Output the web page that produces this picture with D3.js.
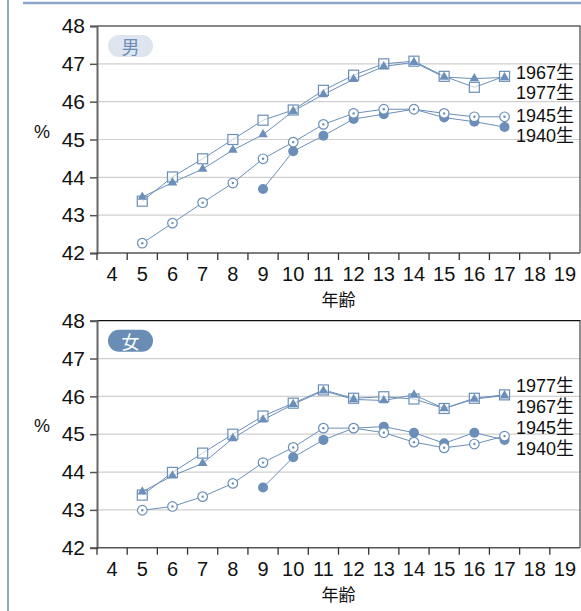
<!DOCTYPE html>
<html>
<head>
<meta charset="utf-8">
<script src="https://cdn.jsdelivr.net/npm/d3@7"></script>
<style>
  html, body { margin: 0; padding: 0; background: #fff; }
  svg { display: block; font-family: "Liberation Sans", Arial, "Noto Sans CJK JP", sans-serif; }
  .cjk { font-family: "Noto Sans CJK JP", sans-serif; }
</style>
</head>
<body>
<svg id="chart" width="581" height="611"></svg>
<script>
const ages = [4, 5, 6, 7, 8, 9, 10, 11, 12, 13, 14, 15, 16, 17, 18, 19];
const yTicks = [42, 43, 44, 45, 46, 47, 48];
const cohortAges = [5, 6, 7, 8, 9, 10, 11, 12, 13, 14, 15, 16, 17];

// 男
const male1967 = [43.37, 44.01, 44.49, 45.0, 45.51, 45.78, 46.3, 46.7, 47.0, 47.07, 46.67, 46.38, 46.67];
const male1977 = [43.48, 43.86, 44.22, 44.72, 45.13, 45.75, 46.19, 46.59, 46.93, 47.04, 46.65, 46.61, 46.64];
const male1945 = [42.26, 42.79, 43.33, 43.85, 44.49, 44.93, 45.4, 45.69, 45.8, 45.8, 45.69, 45.6, 45.6];
const male1940 = [null, null, null, null, 43.69, 44.69, 45.1, 45.54, 45.67, 45.8, 45.58, 45.47, 45.33];

// 女
const female1967 = [43.39, 43.99, 44.5, 45.0, 45.48, 45.82, 46.17, 45.95, 45.99, 45.93, 45.68, 45.95, 46.04];
const female1977 = [43.48, 43.9, 44.23, 44.89, 45.38, 45.79, 46.15, 45.92, 45.89, 46.04, 45.68, 45.93, 46.02];
const female1945 = [42.99, 43.09, 43.35, 43.7, 44.25, 44.65, 45.16, 45.16, 45.04, 44.79, 44.64, 44.74, 44.95];
const female1940 = [null, null, null, null, 43.59, 44.39, 44.85, 45.16, 45.2, 45.04, 44.76, 45.04, 44.85];

const seriesNames = ["1967生", "1977生", "1945生", "1940生"];
const markerKinds = ["square", "triangle", "dotcircle", "dot"];

const panels = [
  { title: "男", top: 26, series: [male1967, male1977, male1945, male1940],
    labelOrder: [0, 1, 2, 3], labelY: [46.77, 46.22, 45.63, 45.08], dark: false },
  { title: "女", top: 320.7, series: [female1967, female1977, female1945, female1940],
    labelOrder: [1, 0, 2, 3], labelY: [46.27, 45.71, 45.16, 44.6], dark: true }
];

const blue = "#6b8fb9";
const svg = d3.select("#chart");

// frame
svg.append("line").attr("x1", 8).attr("x2", 8).attr("y1", 0).attr("y2", 611)
  .attr("stroke", "#8ca7c7").attr("stroke-width", 2);
svg.append("line").attr("x1", 23).attr("x2", 581).attr("y1", 3).attr("y2", 3)
  .attr("stroke", "#8ca7c7").attr("stroke-width", 2.5);

const left = 97, right = 580, plotH = 227;

const x = d3.scaleBand().domain(ages).range([left, right]);

panels.forEach(p => {
  const y = d3.scaleLinear().domain([42, 48]).range([p.top + plotH, p.top]);
  const g = svg.append("g");

  // grid
  g.selectAll(".grid").data(yTicks.filter(t => t > 42 && t < 48)).join("line")
    .attr("x1", left).attr("x2", right)
    .attr("y1", d => y(d)).attr("y2", d => y(d))
    .attr("stroke", "#d0d0d0").attr("stroke-width", 1.2);

  // top and right border
  g.append("line").attr("x1", left).attr("x2", right + 0.5).attr("y1", y(48)).attr("y2", y(48))
    .attr("stroke", "#111").attr("stroke-width", 1.2);
  g.append("line").attr("x1", right).attr("x2", right).attr("y1", y(48)).attr("y2", y(42))
    .attr("stroke", "#444").attr("stroke-width", 1.2);

  // y axis
  const ya = g.append("g").attr("transform", `translate(${left},0)`)
    .call(d3.axisLeft(y).tickValues(yTicks).tickFormat(d3.format("d")).tickSize(7).tickPadding(5));
  ya.select(".domain").attr("stroke", "#666").attr("stroke-width", 2);
  ya.selectAll(".tick line").attr("stroke", "#555").attr("stroke-width", 1.5);
  ya.selectAll(".tick text").attr("font-size", 21).attr("fill", "#111")
    .attr("font-family", "Liberation Sans, Arial, sans-serif");

  // x axis: ticks on band boundaries, labels centred in bands
  const xa = g.append("g").attr("transform", `translate(0,${y(42)})`);
  xa.append("line").attr("x1", left).attr("x2", right).attr("stroke", "#555").attr("stroke-width", 1.5);
  xa.selectAll(".xt").data(ages).join("line")
    .attr("x1", d => x(d)).attr("x2", d => x(d)).attr("y1", 0).attr("y2", 7)
    .attr("stroke", "#333").attr("stroke-width", 1.3);
  xa.selectAll(".xl").data(ages).join("text")
    .attr("x", d => x(d) + x.bandwidth() / 2).attr("y", 28)
    .attr("text-anchor", "middle").attr("font-size", 20).attr("fill", "#111")
    .text(d => d);

  g.append("text").attr("class", "cjk").attr("x", (left + right) / 2).attr("y", y(42) + 53)
    .attr("text-anchor", "middle").attr("font-size", 17).attr("fill", "#111").text("年齢");
  g.append("text").attr("x", 42).attr("y", y(45) - 2)
    .attr("text-anchor", "middle").attr("font-size", 18).attr("fill", "#111").text("%");

  // title pill
  g.append("rect").attr("x", 108).attr("y", p.top + 9).attr("width", 45).attr("height", 22)
    .attr("rx", 11).attr("fill", p.dark ? "#6a8db5" : "#dfe5ef");
  g.append("text").attr("class", "cjk").attr("x", 130.5).attr("y", p.top + 20)
    .attr("dominant-baseline", "central").attr("text-anchor", "middle")
    .attr("font-size", 18).attr("fill", p.dark ? "#fff" : "#6b8fb9").text(p.title);

  const cx = a => x(a) + x.bandwidth() / 2;
  const line = d3.line().defined(d => d[1] != null).x(d => cx(d[0])).y(d => y(d[1]));

  // lines (drawn back to front)
  [3, 2, 1, 0].forEach(si => {
    const pts = cohortAges.map((a, i) => [a, p.series[si][i]]);
    g.append("path").attr("d", line(pts)).attr("fill", "none")
      .attr("stroke", blue).attr("stroke-width", 1);
  });

  [3, 2, 0, 1].forEach(si => {
    const pts = cohortAges.map((a, i) => [a, p.series[si][i]]).filter(d => d[1] != null);
    const kind = markerKinds[si];
    const m = g.append("g");
    pts.forEach(([a, v]) => {
      const px = cx(a), py = y(v);
      if (kind === "square") {
        m.append("rect").attr("x", px - 5).attr("y", py - 5).attr("width", 10).attr("height", 10)
          .attr("fill", "#fff").attr("fill-opacity", 0.6).attr("stroke", blue).attr("stroke-width", 1.2);
      } else if (kind === "triangle") {
        m.append("path").attr("d", d3.symbol(d3.symbolTriangle, 40)()).attr("transform", `translate(${px},${py})`)
          .attr("fill", blue);
      } else if (kind === "dotcircle") {
        m.append("circle").attr("cx", px).attr("cy", py).attr("r", 4.8)
          .attr("fill", "#fff").attr("stroke", blue).attr("stroke-width", 1.2);
        m.append("circle").attr("cx", px).attr("cy", py).attr("r", 1.2).attr("fill", blue);
      } else {
        m.append("circle").attr("cx", px).attr("cy", py).attr("r", 5).attr("fill", blue);
      }
    });
  });

  // series labels
  p.labelOrder.forEach((si, k) => {
    g.append("text").attr("x", 516).attr("y", y(p.labelY[k]))
      .attr("dominant-baseline", "central").attr("font-size", 18).attr("fill", "#111")
      .text(seriesNames[si]);
  });
});
</script>
</body>
</html>
